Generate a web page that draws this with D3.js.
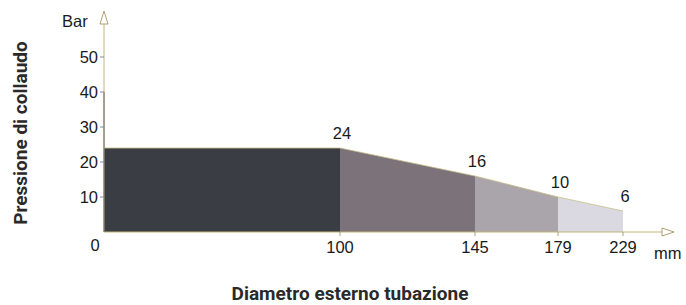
<!DOCTYPE html>
<html>
<head>
<meta charset="utf-8">
<script src="https://cdn.jsdelivr.net/npm/d3@7"></script>
<style>
  body { margin: 0; background: #fff; }
  text { font-family: "Liberation Sans", Arial, sans-serif; }
  .title { font-family: Roboto, "DejaVu Sans", sans-serif; font-weight: bold; }
</style>
</head>
<body>
<div id="chart"></div>
<script>
// diameter breakpoints (mm) and test pressure (bar)
var diameters = [0, 100, 145, 179, 229];
var pressures = [24, 24, 16, 10, 6];
var yTicks = [10, 20, 30, 40, 50];
var xTicks = [100, 145, 179, 229];
var fills = ["#3b3d45", "#7b727a", "#aaa4ab", "#dad8e0"];

var width = 686,
  height = 305;

var svg = d3.select("#chart").append("svg")
  .attr("width", width)
  .attr("height", height);

var x0 = 104, y0 = 232;
var fs = 16.5;

// the drawing is not to scale: each step has its own length
var x = d3.scaleLinear()
  .domain(diameters)
  .range([x0, 340, 475, 558, 623]);

var y = d3.scaleLinear()
  .domain([0, 50])
  .range([y0, 57]);

// segments
var segs = d3.range(diameters.length - 1).map(function (i) {
  return {
    a: diameters[i], b: diameters[i + 1],
    pa: pressures[i], pb: pressures[i + 1], color: fills[i]
  };
});

svg.selectAll("polygon.seg")
  .data(segs)
  .enter()
  .append("polygon")
  .attr("class", "seg")
  .attr("fill", function (d) { return d.color; })
  .attr("points", function (d) {
    return [[x(d.a), y(0)], [x(d.a), y(d.pa)], [x(d.b), y(d.pb)], [x(d.b), y(0)]]
      .map(function (p) { return p.join(","); }).join(" ");
  });

// top edge line
svg.append("path")
  .attr("d", d3.line().x(function (d, i) { return x(diameters[i]); }).y(function (d) { return y(d); })(pressures))
  .attr("fill", "none")
  .attr("stroke", "#c9c08a")
  .attr("stroke-width", 0.8);

// axes lines
var axisColor = "#c2b476";
svg.append("line")
  .attr("x1", x0).attr("x2", 662)
  .attr("y1", y0).attr("y2", y0)
  .attr("stroke", axisColor).attr("stroke-width", 1);
svg.append("line")
  .attr("x1", x0).attr("x2", x0)
  .attr("y1", y0).attr("y2", 22)
  .attr("stroke", axisColor).attr("stroke-width", 1);
svg.append("line")
  .attr("x1", x0).attr("x2", x0)
  .attr("y1", y0).attr("y2", y(40))
  .attr("stroke", "#666").attr("stroke-width", 1);

// arrowheads
svg.append("path")
  .attr("d", "M662,228 L674,232 L662,236 Z")
  .attr("fill", "#fff").attr("stroke", "#b0a070").attr("stroke-width", 1);
svg.append("path")
  .attr("d", "M100,24 L104,11 L108,24 Z")
  .attr("fill", "#fff").attr("stroke", "#b0a070").attr("stroke-width", 1);

// y ticks
svg.selectAll("line.ytick")
  .data(yTicks)
  .enter()
  .append("line")
  .attr("class", "ytick")
  .attr("x1", x0 - 4).attr("x2", x0)
  .attr("y1", function (d) { return y(d); })
  .attr("y2", function (d) { return y(d); })
  .attr("stroke", "#888");

svg.selectAll("text.ylab")
  .data(yTicks)
  .enter()
  .append("text")
  .attr("class", "ylab")
  .attr("x", x0 - 6)
  .attr("y", function (d) { return y(d) + 6; })
  .attr("text-anchor", "end")
  .attr("font-size", fs)
  .attr("fill", "#1a1a1a")
  .text(function (d) { return d; });

svg.append("text")
  .attr("x", 95).attr("y", 251)
  .attr("text-anchor", "middle")
  .attr("font-size", fs).attr("fill", "#1a1a1a")
  .text("0");

// x tick marks and labels
svg.selectAll("line.xtick")
  .data(xTicks)
  .enter()
  .append("line")
  .attr("class", "xtick")
  .attr("x1", function (d) { return x(d); })
  .attr("x2", function (d) { return x(d); })
  .attr("y1", y0).attr("y2", y0 + 4)
  .attr("stroke", "#b0a070");

svg.selectAll("text.xlab")
  .data(xTicks)
  .enter()
  .append("text")
  .attr("class", "xlab")
  .attr("x", function (d) { return x(d); })
  .attr("y", 253)
  .attr("text-anchor", "middle")
  .attr("font-size", fs).attr("fill", "#1a1a1a")
  .text(function (d) { return d; });

// pressure value labels
svg.selectAll("text.val")
  .data(pressures.slice(1))
  .enter()
  .append("text")
  .attr("class", "val")
  .attr("x", function (d, i) { return x(diameters[i + 1]) + 2; })
  .attr("y", function (d) { return y(d) - 9; })
  .attr("text-anchor", "middle")
  .attr("font-size", fs).attr("fill", "#1a1a1a")
  .text(function (d) { return d; });

// units
svg.append("text").attr("x", 62).attr("y", 27)
  .attr("font-size", fs).attr("fill", "#1a1a1a").text("Bar");
svg.append("text").attr("x", 654).attr("y", 259)
  .attr("font-size", fs).attr("fill", "#1a1a1a").text("mm");

// axis titles
svg.append("text")
  .attr("class", "title")
  .attr("transform", "translate(27,133) rotate(-90)")
  .attr("text-anchor", "middle")
  .attr("font-size", 19).attr("fill", "#2a2a2a")
  .text("Pressione di collaudo");

svg.append("text")
  .attr("class", "title")
  .attr("x", 350).attr("y", 300)
  .attr("text-anchor", "middle")
  .attr("font-size", 19).attr("fill", "#2a2a2a")
  .text("Diametro esterno tubazione");
</script>
</body>
</html>
